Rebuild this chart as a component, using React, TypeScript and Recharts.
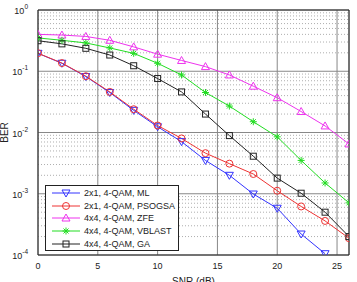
import React from "react";
import {
  LineChart,
  Line,
  XAxis,
  YAxis,
  CartesianGrid,
  ReferenceLine,
  Legend,
  Label,
} from "recharts";

// SNR values (dB)
const snr = [0, 2, 4, 6, 8, 10, 12, 14, 16, 18, 20, 22, 24, 26];

// BER curves
const berML = [0.196, 0.135, 0.082, 0.045, 0.023, 0.0124, 0.0071, 0.0035, 0.002, 0.00099, 0.00058, 0.00022, 0.000105, null];
const berPSOGSA = [0.197, 0.136, 0.083, 0.046, 0.024, 0.013, 0.008, 0.0046, 0.0031, 0.0021, 0.00112, 0.00062, 0.00036, 0.000188];
const berZFE = [0.4, 0.39, 0.37, 0.32, 0.25, 0.19, 0.15, 0.119, 0.087, 0.057, 0.037, 0.022, 0.0128, 0.0065];
const berVBLAST = [0.35, 0.32, 0.29, 0.24, 0.196, 0.135, 0.087, 0.045, 0.027, 0.015, 0.0085, 0.0035, 0.0015, 0.00071];
const berGA = [0.315, 0.28, 0.237, 0.184, 0.123, 0.076, 0.046, 0.02, 0.0089, 0.0041, 0.0018, 0.00102, 0.0005, 0.0002];

const xTicks = [0, 5, 10, 15, 20, 25];
const yTicks = [1e-4, 1e-3, 1e-2, 1e-1, 1];
// minor log grid: 2..9 within each decade
const yMinor = [1e-4, 1e-3, 1e-2, 1e-1].flatMap((d) => [2, 3, 4, 5, 6, 7, 8, 9].map((m) => m * d));

const series = [
  { key: "ml", name: "2x1, 4-QAM, ML", color: "#3333ff", shape: "tri-down", values: berML },
  { key: "psogsa", name: "2x1, 4-QAM, PSOGSA", color: "#ee3333", shape: "circle", values: berPSOGSA },
  { key: "zfe", name: "4x4, 4-QAM, ZFE", color: "#ee33ee", shape: "tri-up", values: berZFE },
  { key: "vblast", name: "4x4, 4-QAM, VBLAST", color: "#22dd22", shape: "star", values: berVBLAST },
  { key: "ga", name: "4x4, 4-QAM, GA", color: "#222222", shape: "square", values: berGA },
];

const data = snr.map((s, i) => {
  const row: Record<string, number | null> = { snr: s };
  series.forEach((sr) => {
    row[sr.key] = sr.values[i];
  });
  return row;
});

const FONT = "Liberation Sans, Arial, sans-serif";

function Marker({ shape, cx, cy, color }: { shape: string; cx: number; cy: number; color: string }) {
  const r = 3.5;
  if (shape === "circle") {
    return <circle cx={cx} cy={cy} r={r} fill="none" stroke={color} strokeWidth={1} />;
  }
  if (shape === "square") {
    return <rect x={cx - 3} y={cy - 3} width={6} height={6} fill="none" stroke={color} strokeWidth={1} />;
  }
  if (shape === "tri-up") {
    return (
      <polygon
        points={`${cx},${cy - 4} ${cx - 4},${cy + 3} ${cx + 4},${cy + 3}`}
        fill="none"
        stroke={color}
        strokeWidth={1}
      />
    );
  }
  if (shape === "tri-down") {
    return (
      <polygon
        points={`${cx},${cy + 4} ${cx - 4},${cy - 3} ${cx + 4},${cy - 3}`}
        fill="none"
        stroke={color}
        strokeWidth={1}
      />
    );
  }
  // asterisk
  return (
    <g stroke={color} strokeWidth={1}>
      <line x1={cx - 3.5} y1={cy} x2={cx + 3.5} y2={cy} />
      <line x1={cx} y1={cy - 3.5} x2={cx} y2={cy + 3.5} />
      <line x1={cx - 2.5} y1={cy - 2.5} x2={cx + 2.5} y2={cy + 2.5} />
      <line x1={cx - 2.5} y1={cy + 2.5} x2={cx + 2.5} y2={cy - 2.5} />
    </g>
  );
}

const YTick = ({ x, y, payload }: any) => {
  const e = Math.round(Math.log10(payload.value));
  return (
    <text x={x - 2} y={y + 4} textAnchor="end" fontSize={9} fill="#222" fontFamily={FONT}>
      10
      <tspan dy={-5} fontSize={6.5}>
        {e}
      </tspan>
    </text>
  );
};

const renderLegend = () => (
  <div
    style={{
      border: "1px solid #222",
      background: "#fff",
      padding: "1px 3px 0px 5px",
      fontFamily: FONT,
      fontSize: 9,
      color: "#222",
    }}
  >
    {series.map((s) => (
      <div key={s.key} style={{ display: "flex", alignItems: "center", height: 12.6 }}>
        <svg width={30} height={12} style={{ marginRight: 3 }}>
          <line x1={1} y1={6} x2={29} y2={6} stroke={s.color} strokeWidth={1} />
          <Marker shape={s.shape} cx={15} cy={6} color={s.color} />
        </svg>
        <span>{s.name}</span>
      </div>
    ))}
  </div>
);

export default function App() {
  return (
    <div style={{ position: "absolute", left: 0, top: 0, background: "#fff" }}>
      <LineChart width={357} height={282} data={data} margin={{ top: 10, right: 8, bottom: 7, left: 8 }}>
        <CartesianGrid stroke="#888" strokeWidth={1} />
        {yMinor.map((v) => (
          <ReferenceLine key={v} y={v} stroke="#999" strokeDasharray="1 2" strokeWidth={0.8} />
        ))}
        <XAxis
          dataKey="snr"
          type="number"
          domain={[0, 26]}
          ticks={xTicks}
          allowDataOverflow
          tickLine={false}
          axisLine={{ stroke: "#222" }}
          tick={{ fontSize: 9, fill: "#222", fontFamily: FONT }}
          height={20}
        >
          <Label value="SNR (dB)" position="insideBottom" offset={-10} style={{ fontSize: 10, fill: "#222", fontFamily: FONT }} />
        </XAxis>
        <YAxis
          scale="log"
          domain={[1e-4, 1]}
          ticks={yTicks}
          allowDataOverflow
          tickLine={false}
          axisLine={{ stroke: "#222" }}
          tick={<YTick />}
          width={30}
        >
          <Label value="BER" angle={-90} position="insideLeft" offset={-4} style={{ fontSize: 10, fill: "#222", fontFamily: FONT, textAnchor: "middle" }} />
        </YAxis>
        <ReferenceLine y={1} stroke="#222" />
        <ReferenceLine x={26} stroke="#222" />
        {series.map((s) => (
          <Line
            key={s.key}
            dataKey={s.key}
            name={s.name}
            stroke={s.color}
            strokeWidth={1}
            isAnimationActive={false}
            activeDot={false}
            dot={(p: any) =>
              p.cx == null || p.cy == null || p.value == null ? (
                <g key={`${s.key}-${p.index}`} />
              ) : (
                <Marker key={`${s.key}-${p.index}`} shape={s.shape} cx={p.cx} cy={p.cy} color={s.color} />
              )
            }
          />
        ))}
        <Legend
          layout="vertical"
          align="center"
          verticalAlign="middle"
          content={renderLegend}
          wrapperStyle={{ position: "absolute", left: 45, top: 185, width: "auto", bottom: "auto", margin: 0 }}
        />
      </LineChart>
    </div>
  );
}
